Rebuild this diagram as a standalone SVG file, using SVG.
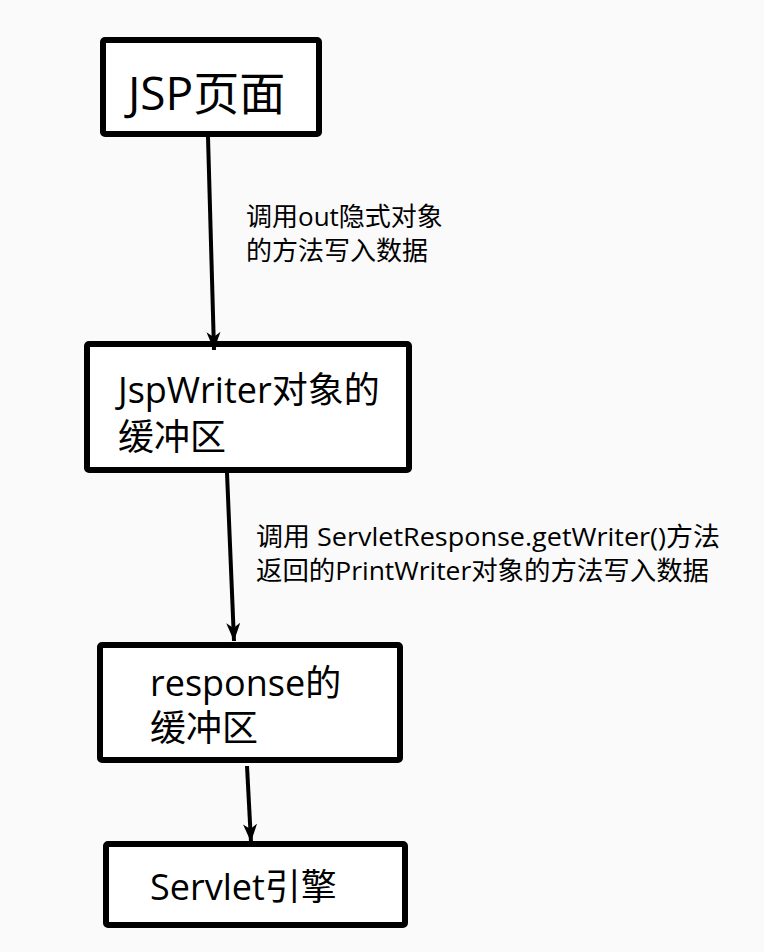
<svg xmlns="http://www.w3.org/2000/svg" width="764" height="952" viewBox="0 0 764 952">
<defs>
<style>
.box{fill:#ffffff;stroke:#000;stroke-width:6;stroke-linejoin:round}
.t{font-family:"Open Sans","Noto Sans CJK SC",sans-serif;fill:#000}
.big{font-size:36px}
.lbl{font-size:26px}
.edge{stroke:#000;stroke-width:4;fill:none}
</style>
<marker id="ah" viewBox="0 0 18 14" refX="18" refY="7" markerWidth="18" markerHeight="14" markerUnits="userSpaceOnUse" orient="auto">
<path d="M0,0 L18,7 L0,14 L5,7 Z" fill="#000"/>
</marker>
</defs>
<rect width="764" height="952" fill="#fafafa"/>
<g id="n1">
<rect class="box" x="103" y="40" width="216" height="94" rx="2"/>
<text class="t" x="128" y="110" font-size="46">JSP页面</text>
</g>
<g id="n2">
<rect class="box" x="87" y="344" width="322" height="126" rx="2"/>
<text class="t big" x="118" y="403">JspWriter对象的</text>
<text class="t big" x="118" y="450">缓冲区</text>
</g>
<g id="n3">
<rect class="box" x="100" y="645" width="300" height="115" rx="2"/>
<text class="t big" x="150" y="696">response的</text>
<text class="t big" x="150" y="741">缓冲区</text>
</g>
<g id="n4">
<rect class="box" x="106" y="844" width="299" height="81" rx="2"/>
<text class="t big" x="150" y="900">Servlet引擎</text>
</g>
<g id="edges">
<line class="edge" x1="208" y1="137" x2="214" y2="350" marker-end="url(#ah)"/>
<line class="edge" x1="227" y1="473" x2="234" y2="641" marker-end="url(#ah)"/>
<line class="edge" x1="247" y1="766" x2="251" y2="842" marker-end="url(#ah)"/>
<text class="t lbl" x="246" y="226">调用out隐式对象</text>
<text class="t lbl" x="246" y="260">的方法写入数据</text>
<text class="t lbl" x="256" y="546" textLength="464" lengthAdjust="spacingAndGlyphs">调用 ServletResponse.getWriter()方法</text>
<text class="t lbl" x="256" y="580" textLength="453" lengthAdjust="spacingAndGlyphs">返回的PrintWriter对象的方法写入数据</text>
</g>
</svg>
